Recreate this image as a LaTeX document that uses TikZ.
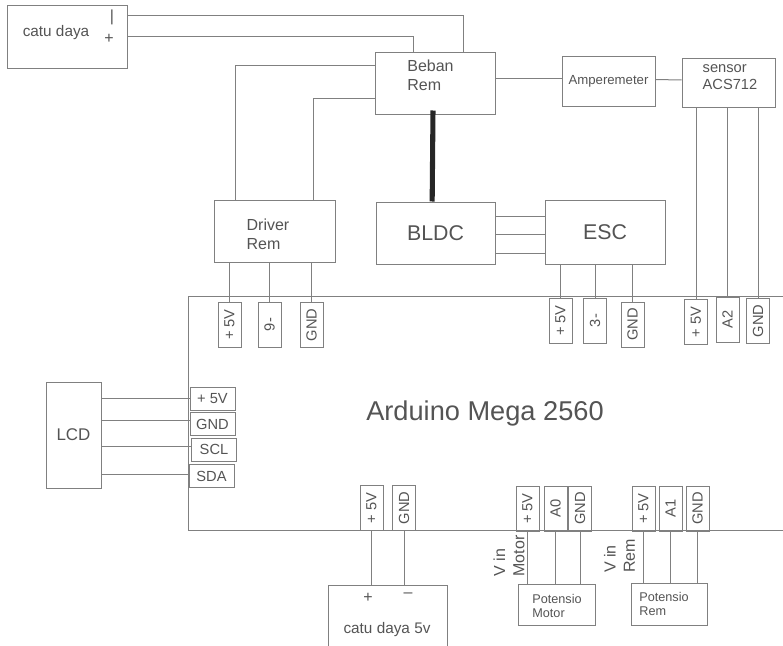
\documentclass[tikz,border=0pt]{standalone}
\usepackage{fontspec}
\setmainfont{Liberation Sans}
\definecolor{wirecol}{gray}{0.5}
\definecolor{inkcol}{gray}{0.33}
\tikzset{
  block/.style 2 args={draw=wirecol,line width=0.75pt,inner sep=0pt,minimum width=#1*0.75pt,minimum height=#2*0.75pt,text=inkcol},
  pinbox/.style={block={45}{23},font=\fontsize{11}{13}\selectfont},
  vpin/.style={pinbox,rotate=90},
  txt/.style={text=inkcol,inner sep=0pt,align=left,font=\fontsize{12}{14.5}\selectfont},
  wire/.style={draw=wirecol,line width=0.75pt},
  shaft/.style={draw=black!85,line width=3.8pt}
}
\begin{document}
\begin{tikzpicture}[x=0.75pt,y=-0.75pt]
	\useasboundingbox (0,0) rectangle (783,646);
	\clip (0,0) rectangle (783,646);
	\node[block={612}{234}] (mega) at (494,413) {};
	\node[txt,font=\fontsize{20.4}{24}\selectfont] (megatxt) at (485,413) {Arduino Mega 2560};
	\node[block={120}{63}] (catu) at (67,36.5) {};
	\node[txt,font=\fontsize{11.5}{14}\selectfont] (catutxt) at (56,33) {catu daya};
	\node[txt] (catuminus) at (112,17) {|};
	\node[txt] (catuplus) at (109,39) {+};
	\node[block={120}{62}] (beban) at (435,83) {};
	\node[txt] (bebantxt) at (430.5,75) {Beban\\Rem};
	\node[block={121}{62}] (driver) at (274.5,231) {};
	\node[txt] (drivertxt) at (268,234) {Driver\\Rem};
	\node[block={119}{62},font=\fontsize{16}{19}\selectfont] (bldc) at (435.5,233) {BLDC};
	\node[block={120}{64},font=\fontsize{16}{19}\selectfont] (esc) at (605,232) {ESC};
	\node[block={93}{50},font=\fontsize{9.9}{12}\selectfont] (ampere) at (608.5,81) {Amperemeter};
	\node[block={93}{49}] (sensor) at (728.5,82.5) {};
	\node[txt,font=\fontsize{11}{12.5}\selectfont] (sensortxt) at (730,77) {sensor\\ACS712};
	\node[block={55}{106},font=\fontsize{12.7}{15}\selectfont] (lcd) at (73.5,435) {LCD};
	\node[block={119}{70}] (catufive) at (387.5,620) {};
	\node[txt,font=\fontsize{11.5}{14}\selectfont] (catufivetxt) at (387,630) {catu daya 5v};
	\node[txt] (fiveplus) at (368,598) {+};
	\node[txt] (fiveminus) at (408,595) {--};
	\node[block={77}{41}] (potmotor) at (556.5,604.5) {};
	\node[txt,font=\fontsize{9.5}{11}\selectfont] (potmotortxt) at (557,606) {Potensio\\Motor};
	\node[block={76}{42}] (potrem) at (669,604) {};
	\node[txt,font=\fontsize{9.5}{11}\selectfont] (potremtxt) at (664,604) {Potensio\\Rem};
	\node[txt,rotate=90] (vinmotor) at (509,556) {V in\\Motor};
	\node[txt,rotate=90] (vinrem) at (619.5,556) {V in\\Rem};

	\node[vpin] (drvfive) at (229.5,324.5) {+ 5V};
	\node[vpin] (drvnine) at (269.5,324.5) {9-};
	\node[vpin] (drvgnd) at (311.5,325) {GND};
	\node[vpin] (escfive) at (560.5,320.5) {+ 5V};
	\node[vpin] (escthree) at (595,320.5) {3-};
	\node[vpin] (escgnd) at (632.5,324.5) {GND};
	\node[vpin] (acsfive) at (696,322) {+ 5V};
	\node[vpin] (acsatwo) at (727.5,319.5) {A2};
	\node[vpin] (acsgnd) at (758,321) {GND};
	\node[vpin] (supfive) at (371.5,508) {+ 5V};
	\node[vpin] (supgnd) at (404,508) {GND};
	\node[vpin] (mtrfive) at (527.5,508.5) {+ 5V};
	\node[vpin] (mtrazero) at (555.5,508.5) {A0};
	\node[vpin] (mtrgnd) at (580,508.5) {GND};
	\node[vpin] (remfive) at (643.5,508.5) {+ 5V};
	\node[vpin] (remaone) at (670.5,508.5) {A1};
	\node[vpin] (remgnd) at (697.5,508.5) {GND};
	\node[pinbox] (lcdfive) at (212.5,398.5) {+ 5V};
	\node[pinbox] (lcdgnd) at (212.5,424) {GND};
	\node[pinbox] (lcdscl) at (214,449.5) {SCL};
	\node[pinbox] (lcdsda) at (211.5,476) {SDA};

	\draw[wire] ([yshift=15.75pt]catu.east) -| ([xshift=21pt]beban.north);
	\draw[wire] (catu.east) -| ([xshift=-16.5pt]beban.north);
	\draw[wire] ([yshift=13.5pt]beban.west) -| ([xshift=-29pt]driver.north);
	\draw[wire] ([yshift=-11.25pt]beban.west) -| ([xshift=29.6pt]driver.north);
	\draw[wire] ([yshift=3.75pt]beban.east) -- ([yshift=2.25pt]ampere.west);
	\draw[wire] ([yshift=1pt]ampere.east) -- ([yshift=2pt]sensor.west);
	\draw[shaft] ([xshift=-1.5pt,yshift=3pt]beban.south) -- ([xshift=-2.5pt]bldc.north);
	\foreach \dy in {12.75,-0.75,-15}
		\draw[wire] ([yshift=\dy pt]bldc.east) -- ([yshift=\dy pt]bldc.east -| esc.west);
	\foreach \p in {drvfive,drvnine,drvgnd}
		\draw[wire] (\p.east |- driver.south) -- (\p.east);
	\foreach \p in {escfive,escthree,escgnd}
		\draw[wire] (\p.east |- esc.south) -- (\p.east);
	\foreach \p in {acsfive,acsatwo,acsgnd}
		\draw[wire] (\p.east |- sensor.south) -- (\p.east);
	\foreach \p in {supfive,supgnd}
		\draw[wire] (\p.west) -- (\p.west |- catufive.north);
	\foreach \p in {mtrfive,mtrazero,mtrgnd}
		\draw[wire] (\p.west) -- (\p.west |- potmotor.north);
	\foreach \p in {remfive,remaone,remgnd}
		\draw[wire] (\p.west) -- (\p.west |- potrem.north);
	\foreach \p/\dy in {lcdfive/0,lcdgnd/3,lcdscl/2,lcdsda/1.5}
		\draw[wire] ([yshift=\dy pt]\p.west) -- ([yshift=\dy pt]\p.west -| lcd.east);
\end{tikzpicture}
\end{document}
